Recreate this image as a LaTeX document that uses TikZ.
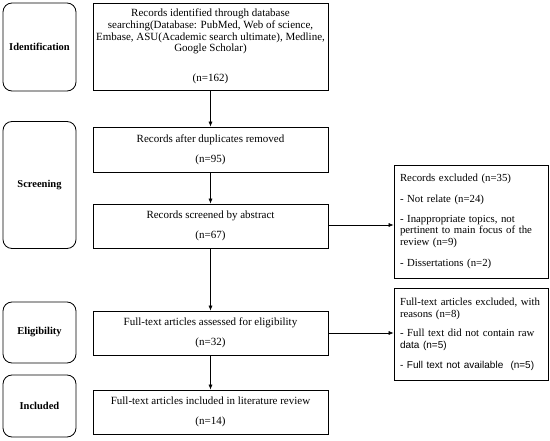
\documentclass[tikz,border=0pt]{standalone}
\usepackage{fontspec}
\setmainfont{Liberation Serif}
\newfontfamily\arialfont{Liberation Sans}
\usetikzlibrary{arrows.meta}
\begin{document}
\begin{tikzpicture}[x=1pt,y=-1pt,
  every node/.style={font=\fontsize{11pt}{11.7pt}\selectfont},
  phase/.style={draw,line width=0.8pt,rounded corners=9pt,minimum width=73pt,inner sep=0pt,font=\fontsize{10.5pt}{12pt}\selectfont\bfseries},
  mainbox/.style={draw,line width=0.7pt,minimum width=235pt,inner sep=0pt,align=center},
  sidebox/.style={draw,line width=0.7pt,minimum width=154pt,inner sep=0pt,text width=142pt,align=left,font=\fontsize{10.8pt}{11.7pt}\selectfont},
  arr/.style={line width=0.6pt,-{Latex[length=5pt,width=4pt]}}]
\useasboundingbox (0,0) rectangle (550,441);
% phase boxes
\node[phase,minimum height=88pt] (p1) at (39.5,47) {Identification};
\node[phase,minimum height=127pt] (p2) at (39.5,185) {Screening};
\node[phase,minimum height=61pt] (p3) at (39.5,332.5) {Eligibility};
\node[phase,minimum height=62pt] (p4) at (39.5,406) {Included};
% main boxes
\node[mainbox,minimum height=87pt] (b1) at (210.5,46.5) {Records identified through database\\searching(Database: PubMed, Web of science,\\Embase, ASU(Academic search ultimate), Medline,\\Google Scholar)\\[18pt](n=162)};
\node[mainbox,minimum height=45pt] (b2) at (210.5,149.5) {Records after duplicates removed\\[8pt](n=95)};
\node[mainbox,minimum height=44pt] (b3) at (210.5,226) {Records screened by abstract\\[8pt](n=67)};
\node[mainbox,minimum height=44pt] (b4) at (210.5,333) {Full-text articles assessed for eligibility\\[8pt](n=32)};
\node[mainbox,minimum height=44pt] (b5) at (210.5,412) {Full-text articles included in literature review\\[8pt](n=14)};
% side boxes
\node[sidebox,minimum height=113pt] (s1) at (471,221.5) {Records excluded (n=35)\\[9pt]- Not relate (n=24)\\[8pt]- Inappropriate topics, not\\pertinent to main focus of the\\review (n=9)\\[9pt]- Dissertations (n=2)};
\node[sidebox,minimum height=92pt] (s2) at (471,334) {Full-text articles excluded, with\\reasons (n=8)\\[8pt]- Full text did not contain raw\\{\arialfont\fontsize{10pt}{11.7pt}\selectfont data (n=5)}\\[8pt]{\arialfont\fontsize{10pt}{11.7pt}\selectfont - Full text not available\ \ (n=5)}};
% arrows
\draw[arr] (b1) -- (b2);
\draw[arr] (b2) -- (b3);
\draw[arr] (b3) -- (b4);
\draw[arr] (b4) -- (b5);
\draw[arr] ([yshift=1pt]b3.east) -- ([yshift=1pt]b3.east -| s1.west);
\draw[arr] (b4.east) -- (b4.east -| s2.west);
\end{tikzpicture}
\end{document}
